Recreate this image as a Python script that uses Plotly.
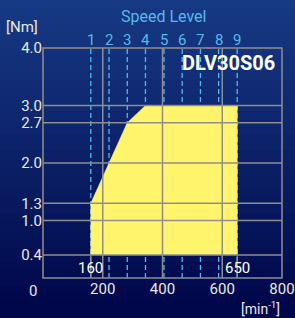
import plotly.graph_objects as go
import numpy as np

# ---- data ----
curve_speed = [160, 160, 282, 343, 650, 650]
curve_torque = [0.4, 1.3, 2.7, 3.0, 3.0, 0.4]
level_names = ["1", "2", "3", "4", "5", "6", "7", "8", "9"]
level_speed = [160, 221, 282, 343, 405, 466, 527, 588, 650]
y_ticks = [4.0, 3.0, 2.7, 2.0, 1.3, 1.0, 0.4]
x_ticks = [200, 400, 600, 800]
x_grid = [200, 400, 600]
marked_speeds = [160, 650]
model = "DLV30S06"

FONT = "Roboto, Arial, sans-serif"
W, H = 295, 318
ML, MR, MT, MB = 43, 13, 48, 40
PW, PH = W - ML - MR, H - MT - MB


def px_x(p):
    return (p - ML) / PW


def px_y(p):
    return (H - MB - p) / PH


fig = go.Figure()

# background gradient (paper coords)
shapes = []
n = 40
top = np.array([0x17, 0x3a, 0x84])
bot = np.array([0x00, 0x07, 0x4a])
y0p, y1p = -MB / PH, 1 + MT / PH
x0p, x1p = -ML / PW, 1 + MR / PW
for i in range(n):
    t = i / (n - 1)
    c = top + (bot - top) * t
    ya = y1p - (y1p - y0p) * i / n
    yb = y1p - (y1p - y0p) * (i + 1) / n
    shapes.append(dict(type="rect", xref="paper", yref="paper", x0=x0p, x1=x1p,
                       y0=yb - 0.002, y1=ya + 0.002, line=dict(width=0),
                       fillcolor="rgb(%d,%d,%d)" % tuple(c.astype(int)), layer="below"))

# dashed speed-level lines (fill drawn on top hides lower part)
for s in level_speed:
    fig.add_trace(go.Scatter(x=[s, s], y=[0, 4.0], mode="lines",
                             line=dict(color="#4cbcf0", width=1.3, dash="5px,3px"),
                             hoverinfo="skip", showlegend=False))

fig.add_trace(go.Scatter(x=curve_speed, y=curve_torque, mode="lines", fill="toself",
                         fillcolor="#fff46c", line=dict(color="#fff46c", width=0.5),
                         hoverinfo="skip", showlegend=False))

grid_col = "#8e8e8e"
for yv in y_ticks[1:]:
    shapes.append(dict(type="line", xref="x", yref="y", x0=0, x1=800, y0=yv, y1=yv,
                       line=dict(color=grid_col, width=1.5), layer="above"))
for xv in x_grid:
    shapes.append(dict(type="line", xref="x", yref="y", x0=xv, x1=xv, y0=0, y1=4.0,
                       line=dict(color=grid_col, width=1.5), layer="above"))
for xv in marked_speeds:
    shapes.append(dict(type="line", xref="x", yref="y", x0=xv, x1=xv, y0=0, y1=y_ticks[-1],
                       line=dict(color=grid_col, width=1.2), layer="above"))
shapes.append(dict(type="rect", xref="paper", yref="paper", x0=0, x1=1, y0=0, y1=1,
                   line=dict(color=grid_col, width=1.5), layer="above"))

ann = []


def text(x, y, t, size, color, xref="paper", yref="paper", xanchor="center", bold=False):
    ann.append(dict(x=x, y=y, xref=xref, yref=yref, text=("<b>%s</b>" % t) if bold else t,
                    showarrow=False, xanchor=xanchor, yanchor="middle",
                    font=dict(family=FONT, size=size, color=color)))


for name, s in zip(level_names, level_speed):
    text(s, px_y(40), name, 15, "#5ab8ea", xref="x")
text(px_x(163), px_y(17), "Speed Level", 16, "#5ab8ea")
text(px_x(22), px_y(27), "[Nm]", 15, "#e8e8e8")
text(px_x(277), px_y(63), model, 20, "#ffffff", xanchor="right", bold=True)
for s in marked_speeds:
    text(s, px_y(268), str(s), 15, "#ffffff", xref="x")
text(px_x(33), px_y(291), "0", 15, "#e8e8e8")
text(px_x(260), px_y(308), "[min<sup>-1</sup>]", 14, "#e8e8e8")

fig.update_layout(
    width=W, height=H, margin=dict(l=ML, r=MR, t=MT, b=MB, autoexpand=False),
    paper_bgcolor="#0a1a5e", plot_bgcolor="rgba(0,0,0,0)",
    shapes=shapes, annotations=ann, showlegend=False,
    xaxis=dict(range=[0, 800], tickvals=x_ticks, ticktext=[str(v) for v in x_ticks],
               showgrid=False, zeroline=False, showline=False, ticks="", automargin=False,
               tickfont=dict(family=FONT, size=15, color="#e8e8e8"), fixedrange=True),
    yaxis=dict(range=[0, 4.0], tickvals=y_ticks, ticktext=["%.1f" % v for v in y_ticks],
               showgrid=False, zeroline=False, showline=False, ticks="", automargin=False,
               tickfont=dict(family=FONT, size=15, color="#e8e8e8"), fixedrange=True),
)

fig.write_html("out.html", config={"displayModeBar": False},
               post_script="document.body.style.margin='0';")
